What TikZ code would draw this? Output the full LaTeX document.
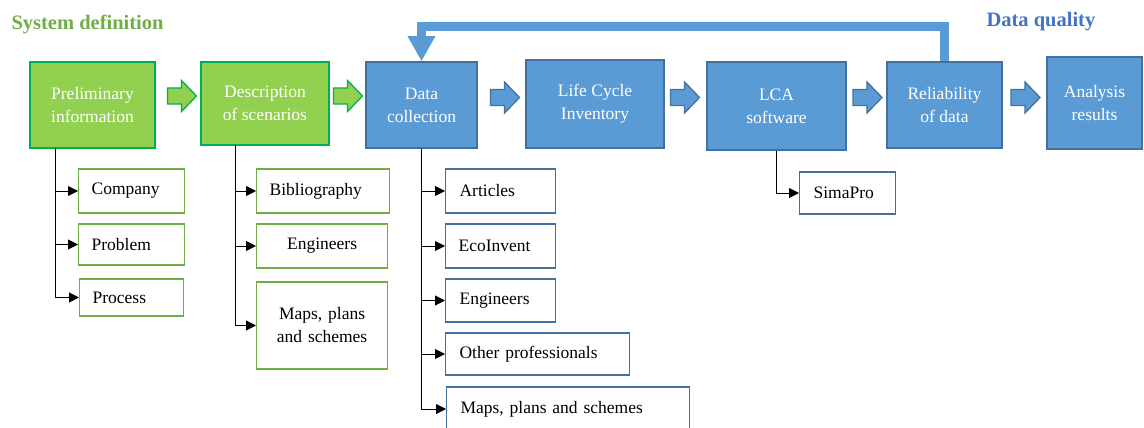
\documentclass[tikz,border=0pt]{standalone}
\usepackage{fontspec}
\setmainfont{Liberation Serif}
\usetikzlibrary{arrows.meta}

\definecolor{stgreen}{HTML}{92D050}
\definecolor{stgreenline}{HTML}{00B050}
\definecolor{lfgreen}{HTML}{70AD47}
\definecolor{stblue}{HTML}{5B9BD5}
\definecolor{stblueline}{HTML}{41719C}
\definecolor{titleblue}{HTML}{4472C4}

% fat arrow between two stages, centred on a named coordinate
\newcommand{\blockarr}[2]{\draw[#1] (#2) ++(-14.5,-8) -- ++(14,0) -- ++(0,-7.5) -- ++(15,15.5) -- ++(-15,15.5) -- ++(0,-7.5) -- ++(-14,0) -- cycle;}

\tikzset{
    stage/.style={draw, line width=1.5pt, text=white, align=center},
    gstage/.style={stage, fill=stgreen, draw=stgreenline},
    bstage/.style={stage, fill=stblue, draw=stblueline},
    leaf/.style={draw, line width=1.2pt, fill=white, anchor=west, inner xsep=13pt, align=left},
    gleaf/.style={leaf, draw=lfgreen},
    bleaf/.style={leaf, draw=stblueline},
    branch/.style={-{Triangle[length=10pt,width=10pt]}, line width=1pt},
    garrow/.style={line width=1.3pt, fill=stgreen, draw=stgreenline, line join=miter},
    barrow/.style={line width=1.3pt, fill=stblue, draw=stblueline, line join=miter},
    feedback/.style={line width=9pt, draw=stblue, -{Triangle[length=25pt,width=26pt]}},
    heading/.style={font=\fontsize{20.5}{24}\selectfont\bfseries, anchor=west}
}

\begin{document}
\begin{tikzpicture}[x=1pt, y=-1pt, font=\fontsize{17.5}{23}\selectfont]
    \useasboundingbox (0,0) rectangle (1144,428);

    % headings
    \node[heading, text=lfgreen] (sysdef) at (8,24) {System definition};
    \node[heading, text=titleblue] (dquality) at (983,22) {Data quality};

    % main stages
    \node[gstage, minimum width=125pt, minimum height=86pt] (pre) at (92.5,105) {Preliminary\\information};
    \node[gstage, minimum width=128pt, minimum height=83pt] (desc) at (265,103.5) {Description\\of scenarios};
    \node[bstage, minimum width=111pt, minimum height=86pt] (dc) at (421.5,105) {Data\\collection};
    \node[bstage, minimum width=138pt, minimum height=88pt] (lci) at (595,104) {Life Cycle\\Inventory};
    \node[bstage, minimum width=139pt, minimum height=88pt] (lca) at (776.5,106) {LCA\\software};
    \node[bstage, minimum width=115pt, minimum height=86pt] (rel) at (944.5,105) {Reliability\\of data};
    \node[bstage, minimum width=95pt, minimum height=92pt] (ana) at (1094.5,103) {Analysis\\results};

    % block arrows between stages
    \coordinate (ga1) at (182,96);
    \coordinate (ga2) at (348,96);
    \coordinate (ba1) at (505,97.5);
    \coordinate (ba2) at (685,97.5);
    \coordinate (ba3) at (867.5,97.5);
    \coordinate (ba4) at (1025.5,97.5);
    \blockarr{garrow}{ga1}
    \blockarr{garrow}{ga2}
    \blockarr{barrow}{ba1}
    \blockarr{barrow}{ba2}
    \blockarr{barrow}{ba3}
    \blockarr{barrow}{ba4}

    % feedback loop
    \coordinate (fbtop) at (0,26.5);
    \draw[feedback] (rel.north) -- (rel.north |- fbtop) -- (dc.north |- fbtop) -- (dc.north);

    % preliminary information
    \node[gleaf, text width=80pt, minimum height=44pt] (company) at (78,191) {Company};
    \node[gleaf, text width=80pt, minimum height=41pt] (problem) at (78,244.5) {Problem};
    \node[gleaf, text width=78pt, minimum height=37pt] (process) at (79,297.5) {Process};
    \coordinate (pret) at (55,148);
    \draw[branch] (pret) |- (company);
    \draw[branch] (pret) |- (problem);
    \draw[branch] (pret) |- (process);

    % description of scenarios
    \node[gleaf, text width=107pt, minimum height=44pt] (biblio) at (256,191) {Bibliography};
    \node[gleaf, align=center, text width=105pt, minimum height=44pt] (engone) at (256,246) {Engineers};
    \node[gleaf, align=center, text width=105pt, minimum height=87pt] (mapsone) at (256,325.5) {Maps, plans\\and schemes};
    \coordinate (desct) at (235,145);
    \draw[branch] (desct) |- (biblio);
    \draw[branch] (desct) |- (engone);
    \draw[branch] (desct) |- (mapsone);

    % data collection
    \node[bleaf, inner xsep=14pt, text width=82pt, minimum height=44pt] (articles) at (445,191) {Articles};
    \node[bleaf, inner xsep=13pt, text width=84pt, minimum height=44pt] (ecoinv) at (445,246) {EcoInvent};
    \node[bleaf, inner xsep=14pt, text width=82pt, minimum height=43pt] (engtwo) at (445,300.5) {Engineers};
    \node[bleaf, inner xsep=14pt, text width=156pt, minimum height=42pt] (others) at (445,354) {Other professionals};
    \node[bleaf, inner xsep=14pt, text width=215pt, minimum height=44pt] (mapstwo) at (446,409) {Maps, plans and schemes};
    \draw[branch] (dc.south) |- (articles);
    \draw[branch] (dc.south) |- (ecoinv);
    \draw[branch] (dc.south) |- (engtwo);
    \draw[branch] (dc.south) |- (others);
    \draw[branch] (dc.south) |- (mapstwo);

    % lca software
    \node[bleaf, inner xsep=14pt, text width=68pt, minimum height=42pt] (simapro) at (799,193) {SimaPro};
    \draw[branch] (lca.south) |- (simapro);
\end{tikzpicture}
\end{document}
